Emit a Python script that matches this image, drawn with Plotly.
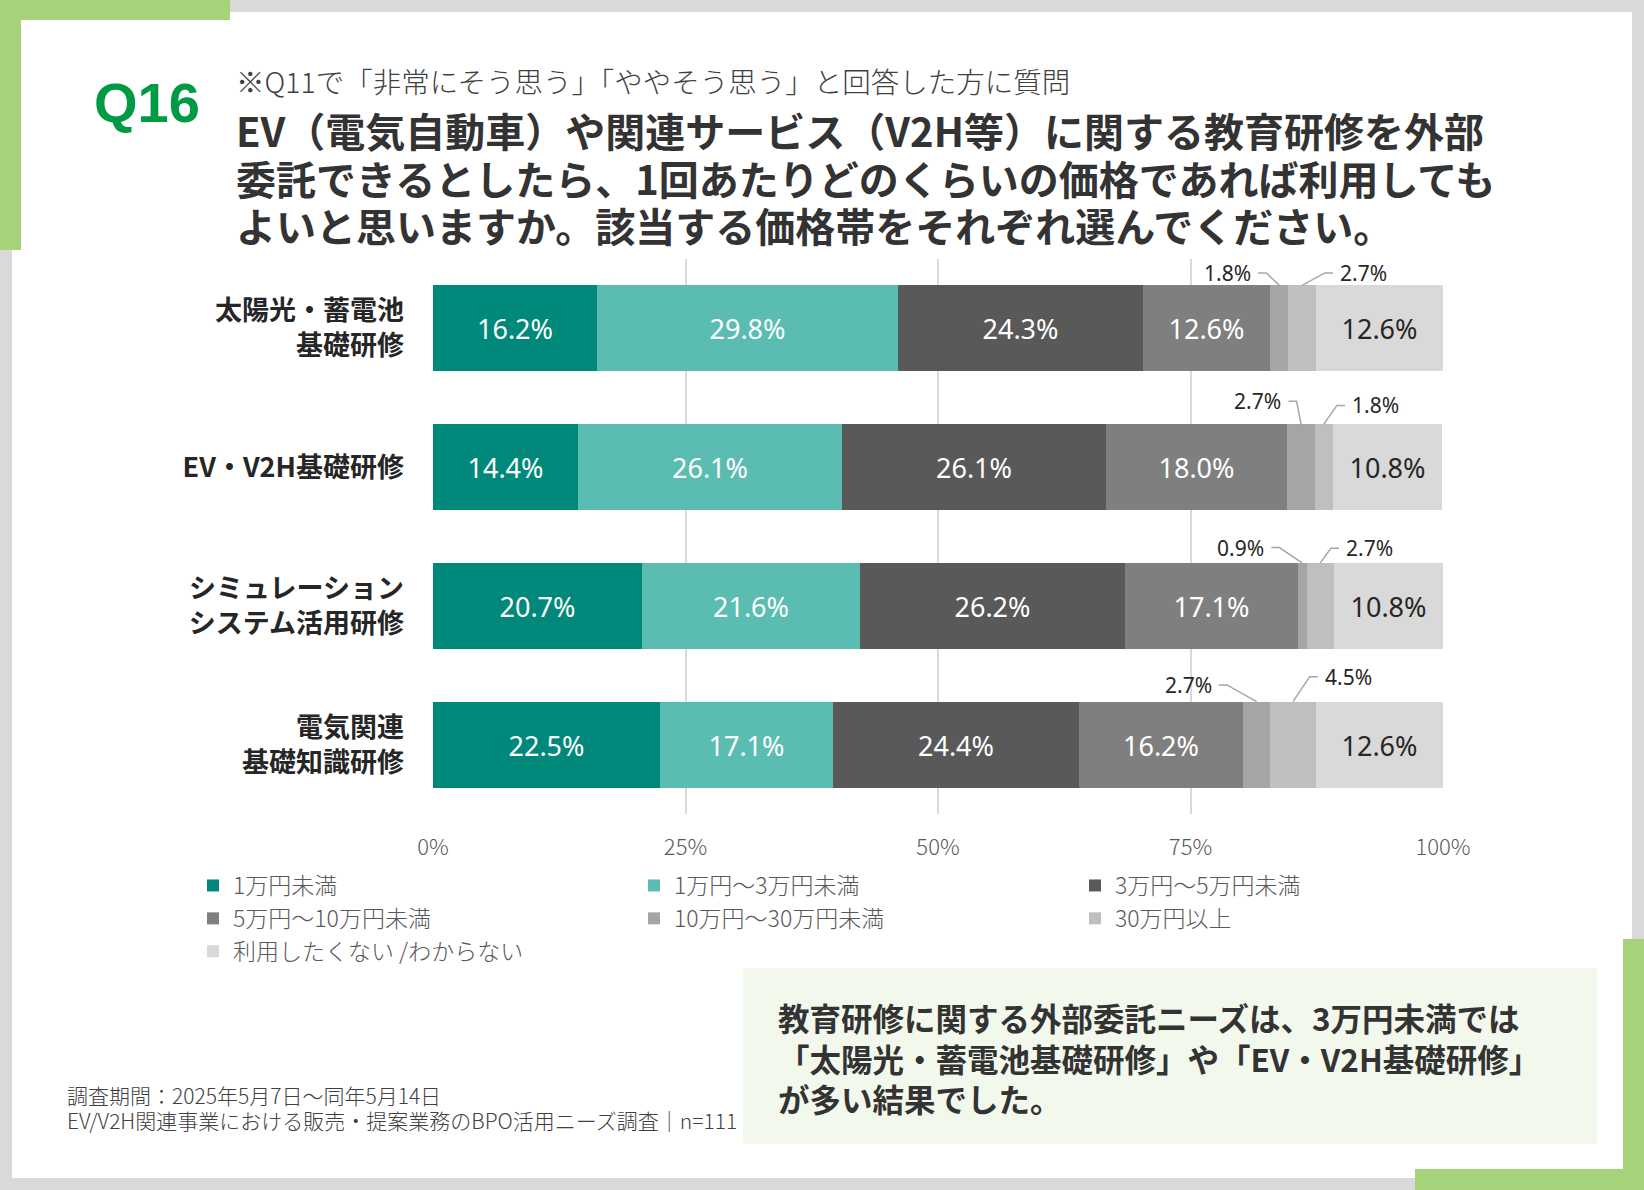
import plotly.graph_objects as go

# canvas and plot-area geometry (pixels)
W, H = 1644, 1190
PLOT_L, PLOT_R, PLOT_T, PLOT_B = 433, 1443, 259, 814

# ---- data ----
categories = [
    "太陽光・蓄電池<br>基礎研修",
    "EV・V2H基礎研修",
    "シミュレーション<br>システム活用研修",
    "電気関連<br>基礎知識研修",
]
series_names = [
    "1万円未満",
    "1万円～3万円未満",
    "3万円～5万円未満",
    "5万円～10万円未満",
    "10万円～30万円未満",
    "30万円以上",
    "利用したくない /わからない",
]
under_1man = [16.2, 14.4, 20.7, 22.5]
from_1_to_3man = [29.8, 26.1, 21.6, 17.1]
from_3_to_5man = [24.3, 26.1, 26.2, 24.4]
from_5_to_10man = [12.6, 18.0, 17.1, 16.2]
from_10_to_30man = [1.8, 2.7, 0.9, 2.7]
over_30man = [2.7, 1.8, 2.7, 4.5]
not_use = [12.6, 10.8, 10.8, 12.6]

x_tick_vals = [0, 25, 50, 75, 100]
x_tick_text = ["0%", "25%", "50%", "75%", "100%"]

series_values = [under_1man, from_1_to_3man, from_3_to_5man, from_5_to_10man,
                 from_10_to_30man, over_30man, not_use]

# ---- styles ----
colors = ["#00897a", "#5bbdb1", "#595959", "#7f7f7f", "#a5a5a5", "#bfbfbf", "#d9d9d9"]
inside_text_colors = ["white", "white", "white", "white", None, None, "#262626"]
JP = "Noto Sans CJK JP"
LATIN = "Noto Sans, Noto Sans CJK JP"
BAR_W = 0.62

# callout label placement for the two thin segments (x edge in %, y offset in rows)
left_callout_x = [81.2, 84.2, 82.5, 77.3]
left_callout_dy = [-0.40, -0.475, -0.42, -0.43]
right_callout_x = [89.6, 90.8, 90.2, 88.1]
right_callout_dy = [-0.40, -0.445, -0.415, -0.49]


def px_x(px):
    return (px - PLOT_L) / (PLOT_R - PLOT_L)


def px_y(py):
    return (PLOT_B - py) / (PLOT_B - PLOT_T)


rows = list(range(len(categories)))
fig = go.Figure()

for i, (name, vals) in enumerate(zip(series_names, series_values)):
    show_text = inside_text_colors[i] is not None
    fig.add_trace(go.Bar(
        y=rows, x=vals, name=name, orientation="h",
        width=BAR_W,
        marker=dict(color=colors[i], line=dict(width=0)),
        texttemplate="%{x:.1f}%" if show_text else None,
        textposition="inside" if show_text else "none",
        insidetextanchor="middle",
        textfont=dict(family=LATIN, size=27, color=inside_text_colors[i] or "#262626"),
        hoverinfo="skip",
    ))

# cumulative positions of the thin segments
starts_10_30 = [a + b + c + d for a, b, c, d in zip(under_1man, from_1_to_3man, from_3_to_5man, from_5_to_10man)]
mids_10_30 = [s + v / 2 for s, v in zip(starts_10_30, from_10_to_30man)]
mids_30 = [s + v + w / 2 for s, v, w in zip(starts_10_30, from_10_to_30man, over_30man)]

annotations = []
lx, ly = [], []
for r in rows:
    bar_top = r - BAR_W / 2
    # left callout (10万円～30万円未満)
    yl = r + left_callout_dy[r]
    xl = left_callout_x[r]
    lx += [xl + 0.5, xl + 1.3, mids_10_30[r], None]
    ly += [yl, yl, bar_top, None]
    annotations.append(dict(x=xl, y=yl, xref="x", yref="y", xanchor="right", yanchor="middle",
                            text=f"{from_10_to_30man[r]:.1f}%", showarrow=False,
                            font=dict(family=LATIN, size=21, color="#262626")))
    # right callout (30万円以上)
    yr = r + right_callout_dy[r]
    xr = right_callout_x[r]
    lx += [xr - 0.5, xr - 1.3, mids_30[r], None]
    ly += [yr, yr, bar_top, None]
    annotations.append(dict(x=xr, y=yr, xref="x", yref="y", xanchor="left", yanchor="middle",
                            text=f"{over_30man[r]:.1f}%", showarrow=False,
                            font=dict(family=LATIN, size=21, color="#262626")))

fig.add_trace(go.Scatter(x=lx, y=ly, mode="lines", showlegend=False, hoverinfo="skip",
                         line=dict(color="#a6a6a6", width=1.5)))

# ---- titles and notes ----
def text_ann(px, py, text, size, color, weight="normal", family=JP, xanchor="left"):
    return dict(x=px_x(px), y=px_y(py), xref="paper", yref="paper", xanchor=xanchor,
                yanchor="middle", text=text, showarrow=False, align="left",
                font=dict(family=family, size=size, color=color, weight=weight))

annotations += [
    text_ann(92, 102, "Q16", 56, "#009944", weight="bold", family="Liberation Sans, Arial"),
    text_ann(234, 81, "※Q11で「非常にそう思う」「ややそう思う」と回答した方に質問", 28.5, "#404040", weight=300),
    text_ann(234, 130, "EV（電気自動車）や関連サービス（V2H等）に関する教育研修を外部", 40, "#333333", weight="bold"),
    text_ann(234, 178, "委託できるとしたら、1回あたりどのくらいの価格であれば利用しても", 40, "#333333", weight="bold"),
    text_ann(234, 225, "よいと思いますか。該当する価格帯をそれぞれ選んでください。", 40, "#333333", weight="bold"),
    text_ann(65, 1095, "調査期間：2025年5月7日～同年5月14日", 21, "#404040", weight=300),
    text_ann(65, 1120, "EV/V2H関連事業における販売・提案業務のBPO活用ニーズ調査｜n=111", 21, "#404040", weight=300),
    text_ann(776, 1017, "教育研修に関する外部委託ニーズは、3万円未満では", 31.5, "#333333", weight="bold"),
    text_ann(776, 1058, "「太陽光・蓄電池基礎研修」や「EV・V2H基礎研修」", 31.5, "#333333", weight="bold"),
    text_ann(776, 1098, "が多い結果でした。", 31.5, "#333333", weight="bold"),
]

# ---- background frame ----
def rect(x0, y0, x1, y1, color):
    return dict(type="rect", xref="paper", yref="paper", layer="below",
                x0=px_x(x0), x1=px_x(x1), y0=px_y(y1), y1=px_y(y0),
                fillcolor=color, line=dict(width=0))

GREEN = "#a6d37a"
shapes = [
    rect(12, 12, 1632, 1178, "white"),
    rect(0, 0, 230, 20, GREEN),
    rect(0, 0, 21, 250, GREEN),
    rect(1623, 939, 1644, 1190, GREEN),
    rect(1415, 1169, 1644, 1190, GREEN),
    rect(743, 968, 1597, 1144, "#f3f8ed"),
]

fig.update_layout(
    width=W, height=H, autosize=False,
    margin=dict(l=PLOT_L, r=W - PLOT_R, t=PLOT_T, b=H - PLOT_B, pad=0),
    paper_bgcolor="#d9d9d9",
    plot_bgcolor="white",
    barmode="stack",
    bargap=0,
    showlegend=True,
    legend=dict(
        orientation="h", traceorder="normal",
        x=px_x(193), xanchor="left", y=px_y(864), yanchor="top",
        entrywidth=396, entrywidthmode="pixels",
        font=dict(family=JP, size=23, color="#595959", weight=300),
        bgcolor="rgba(0,0,0,0)",
    ),
    annotations=annotations,
    shapes=shapes,
    hovermode=False,
)

fig.update_xaxes(
    range=[0, 100], tickvals=x_tick_vals, ticktext=x_tick_text,
    showgrid=True, gridcolor="#d9d9d9", gridwidth=1.5,
    zeroline=False, showline=False, ticks="",
    ticklabelstandoff=18,
    tickfont=dict(family=JP, size=22, color="#595959", weight=300),
    fixedrange=True,
)
fig.update_yaxes(
    range=[len(categories) - 0.5, -0.5], tickvals=rows,
    ticktext=[f"<b>{c}</b>" for c in categories],
    showgrid=False, zeroline=False, showline=False, ticks="",
    ticklabelstandoff=28,
    tickfont=dict(family=JP, size=27, color="#262626"),
    fixedrange=True,
)

# drop the default page margin so the figure sits flush in the window
fig.write_html("out.html", config={"displayModeBar": False},
               post_script="document.body.style.margin='0';")
